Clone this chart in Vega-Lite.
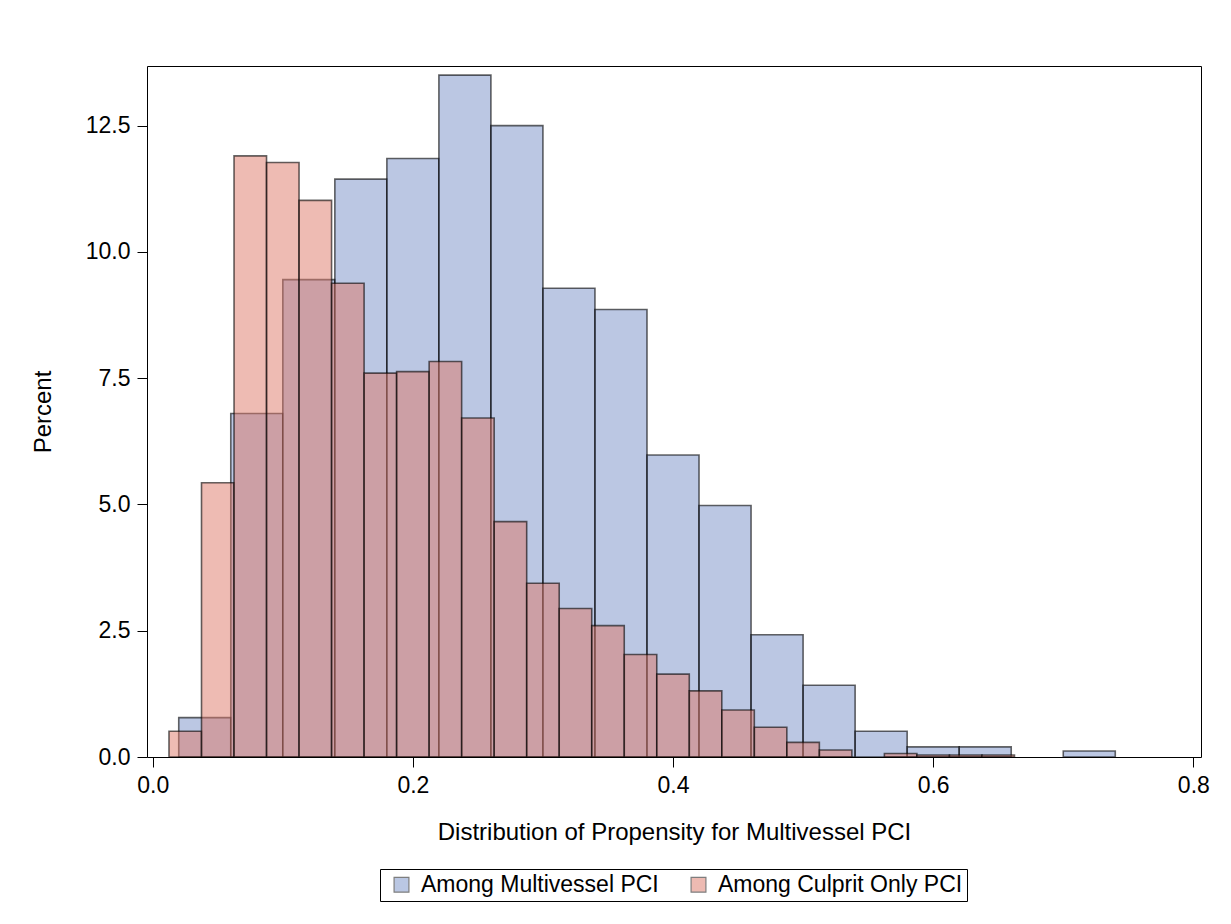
{
  "$schema": "https://vega.github.io/schema/vega-lite/v6.json",
  "width": 1054,
  "height": 691,
  "autosize": {"type": "none"},
  "padding": {"left": 147, "top": 66, "right": 30, "bottom": 167},
  "background": "white",
  "config": {
    "font": "Liberation Sans",
    "view": {"stroke": "black", "strokeWidth": 1},
    "axis": {"domain": false, "grid": false, "tickColor": "black", "tickSize": 10, "labelFontSize": 23, "labelColor": "black", "titleFontSize": 24, "titleFontWeight": "normal", "titleColor": "black"}
  },
  "data": {
    "values": [
      {"group": "Among Multivessel PCI", "lo": 0.02, "hi": 0.06, "pct": 0.78},
      {"group": "Among Multivessel PCI", "lo": 0.06, "hi": 0.10, "pct": 6.8},
      {"group": "Among Multivessel PCI", "lo": 0.10, "hi": 0.14, "pct": 9.45},
      {"group": "Among Multivessel PCI", "lo": 0.14, "hi": 0.18, "pct": 11.44},
      {"group": "Among Multivessel PCI", "lo": 0.18, "hi": 0.22, "pct": 11.85},
      {"group": "Among Multivessel PCI", "lo": 0.22, "hi": 0.26, "pct": 13.5},
      {"group": "Among Multivessel PCI", "lo": 0.26, "hi": 0.30, "pct": 12.5},
      {"group": "Among Multivessel PCI", "lo": 0.30, "hi": 0.34, "pct": 9.28},
      {"group": "Among Multivessel PCI", "lo": 0.34, "hi": 0.38, "pct": 8.86},
      {"group": "Among Multivessel PCI", "lo": 0.38, "hi": 0.42, "pct": 5.98},
      {"group": "Among Multivessel PCI", "lo": 0.42, "hi": 0.46, "pct": 4.98},
      {"group": "Among Multivessel PCI", "lo": 0.46, "hi": 0.50, "pct": 2.42},
      {"group": "Among Multivessel PCI", "lo": 0.50, "hi": 0.54, "pct": 1.42},
      {"group": "Among Multivessel PCI", "lo": 0.54, "hi": 0.58, "pct": 0.51},
      {"group": "Among Multivessel PCI", "lo": 0.58, "hi": 0.62, "pct": 0.2},
      {"group": "Among Multivessel PCI", "lo": 0.62, "hi": 0.66, "pct": 0.2},
      {"group": "Among Multivessel PCI", "lo": 0.70, "hi": 0.74, "pct": 0.12},
      {"group": "Among Culprit Only PCI", "lo": 0.0125, "hi": 0.0375, "pct": 0.51},
      {"group": "Among Culprit Only PCI", "lo": 0.0375, "hi": 0.0625, "pct": 5.43},
      {"group": "Among Culprit Only PCI", "lo": 0.0625, "hi": 0.0875, "pct": 11.9},
      {"group": "Among Culprit Only PCI", "lo": 0.0875, "hi": 0.1125, "pct": 11.77},
      {"group": "Among Culprit Only PCI", "lo": 0.1125, "hi": 0.1375, "pct": 11.02},
      {"group": "Among Culprit Only PCI", "lo": 0.1375, "hi": 0.1625, "pct": 9.38},
      {"group": "Among Culprit Only PCI", "lo": 0.1625, "hi": 0.1875, "pct": 7.6},
      {"group": "Among Culprit Only PCI", "lo": 0.1875, "hi": 0.2125, "pct": 7.63},
      {"group": "Among Culprit Only PCI", "lo": 0.2125, "hi": 0.2375, "pct": 7.83},
      {"group": "Among Culprit Only PCI", "lo": 0.2375, "hi": 0.2625, "pct": 6.71},
      {"group": "Among Culprit Only PCI", "lo": 0.2625, "hi": 0.2875, "pct": 4.66},
      {"group": "Among Culprit Only PCI", "lo": 0.2875, "hi": 0.3125, "pct": 3.44},
      {"group": "Among Culprit Only PCI", "lo": 0.3125, "hi": 0.3375, "pct": 2.94},
      {"group": "Among Culprit Only PCI", "lo": 0.3375, "hi": 0.3625, "pct": 2.6},
      {"group": "Among Culprit Only PCI", "lo": 0.3625, "hi": 0.3875, "pct": 2.03},
      {"group": "Among Culprit Only PCI", "lo": 0.3875, "hi": 0.4125, "pct": 1.64},
      {"group": "Among Culprit Only PCI", "lo": 0.4125, "hi": 0.4375, "pct": 1.31},
      {"group": "Among Culprit Only PCI", "lo": 0.4375, "hi": 0.4625, "pct": 0.93},
      {"group": "Among Culprit Only PCI", "lo": 0.4625, "hi": 0.4875, "pct": 0.59},
      {"group": "Among Culprit Only PCI", "lo": 0.4875, "hi": 0.5125, "pct": 0.29},
      {"group": "Among Culprit Only PCI", "lo": 0.5125, "hi": 0.5375, "pct": 0.14},
      {"group": "Among Culprit Only PCI", "lo": 0.5625, "hi": 0.5875, "pct": 0.07},
      {"group": "Among Culprit Only PCI", "lo": 0.5875, "hi": 0.6125, "pct": 0.04},
      {"group": "Among Culprit Only PCI", "lo": 0.6125, "hi": 0.6375, "pct": 0.04},
      {"group": "Among Culprit Only PCI", "lo": 0.6375, "hi": 0.6625, "pct": 0.04}
    ]
  },
  "mark": {"type": "rect", "fillOpacity": 0.5, "stroke": "black", "strokeOpacity": 0.6, "strokeWidth": 1.6},
  "encoding": {
    "x": {
      "field": "lo", "type": "quantitative",
      "scale": {"domain": [-0.0044, 0.8059], "nice": false, "zero": false},
      "axis": {"values": [0, 0.2, 0.4, 0.6, 0.8], "format": ".1f", "title": "Distribution of Propensity for Multivessel PCI", "titlePadding": 23, "labelPadding": 7}
    },
    "x2": {"field": "hi"},
    "y": {
      "field": "pct", "type": "quantitative",
      "scale": {"domain": [0, 13.68], "nice": false},
      "axis": {"values": [0, 2.5, 5, 7.5, 10, 12.5], "format": ".1f", "title": "Percent", "titlePadding": 30, "labelPadding": 7}
    },
    "y2": {"datum": 0},
    "color": {
      "field": "group", "type": "nominal",
      "scale": {"domain": ["Among Multivessel PCI", "Among Culprit Only PCI"], "range": ["#7890c8", "#dd7767"]},
      "legend": {
        "title": null, "orient": "none", "direction": "horizontal",
        "legendX": 233, "legendY": 803,
        "strokeColor": "black", "padding": 4,
        "symbolType": "square", "symbolSize": 220, "symbolStrokeColor": "black", "symbolStrokeWidth": 1.2, "symbolOpacity": 0.5,
        "labelFontSize": 23, "labelLimit": 400, "labelColor": "black", "columnPadding": 22, "symbolOffset": 6, "labelOffset": 8
      }
    }
  }
}
